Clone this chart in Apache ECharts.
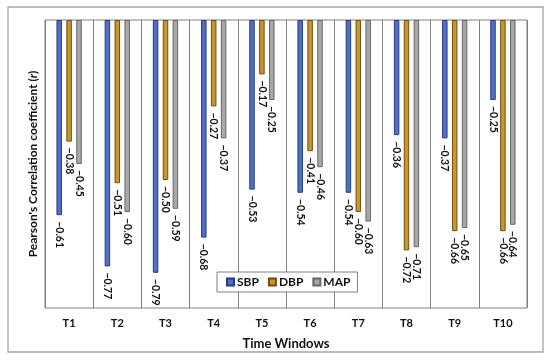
<!DOCTYPE html>
<html><head><meta charset="utf-8">
<script src="https://cdn.jsdelivr.net/npm/echarts@6/dist/echarts.min.js"></script>
<style>html,body{margin:0;padding:0;background:#fff}#c{width:550px;height:364px}</style>
</head><body><div id="c"></div>
<script>
const categories = ['T1','T2','T3','T4','T5','T6','T7','T8','T9','T10'];
const sbp = [-0.61,-0.77,-0.79,-0.68,-0.53,-0.54,-0.54,-0.36,-0.37,-0.25];
const dbp = [-0.38,-0.51,-0.50,-0.27,-0.17,-0.41,-0.60,-0.72,-0.66,-0.66];
const map = [-0.45,-0.60,-0.59,-0.37,-0.25,-0.46,-0.63,-0.71,-0.65,-0.64];
const seriesNames = ['SBP','DBP','MAP'];

const FONT = 'Lato';
const chart = echarts.init(document.getElementById('c'), null, {renderer:'canvas'});
function mk(name, data, fill, border){
  return {
    name, type:'bar', data, barWidth:5.5, barGap:'80%',
    itemStyle:{color:fill, borderColor:border, borderWidth:1},
    label:{show:true, position:'bottom', rotate:-90, distance:6, align:'left', verticalAlign:'middle',
      fontFamily:FONT, fontWeight:'bold', fontSize:10.5, color:'#111',
      formatter:p=>'\u2212'+Math.abs(p.value).toFixed(2)}
  };
}
chart.setOption({
  animation:false,
  backgroundColor:'#fff',
  graphic:[{type:'rect', shape:{x:8,y:7,width:535,height:345}, style:{fill:'none', stroke:'#a5a5a5', lineWidth:1.3}, z:-1}],
  grid:{left:45, right:23, top:20, bottom:56, show:true, borderColor:'#7f7f7f', borderWidth:1, backgroundColor:'transparent'},
  legend:{data:seriesNames, left:217, top:272, orient:'horizontal', icon:'rect', itemWidth:7, itemHeight:7, itemGap:9,
    padding:[4,7,4,9], backgroundColor:'#fff', borderColor:'#7f7f7f', borderWidth:1, z:10,
    textStyle:{fontFamily:FONT, fontWeight:'bold', fontSize:12, color:'#111', padding:[0,0,0,-2]}},
  xAxis:{type:'category', data:categories, position:'bottom',
    axisLine:{show:false}, axisTick:{show:false},
    axisLabel:{fontFamily:FONT, fontWeight:'bold', fontSize:11, color:'#111', margin:10},
    splitLine:{show:true, lineStyle:{color:'#7f7f7f', width:1}},
    name:'Time Windows', nameLocation:'middle', nameGap:29,
    nameTextStyle:{fontFamily:FONT, fontWeight:'bold', fontSize:13, color:'#111'}},
  yAxis:{type:'value', min:-0.9, max:0, interval:0.1, axisLabel:{show:false}, axisTick:{show:false}, axisLine:{show:false}, splitLine:{show:false},
    name:"Pearson's Correlation coefficient ({i|r})", nameLocation:'middle', nameRotate:90, nameGap:6,
    nameTextStyle:{fontFamily:FONT, fontWeight:'bold', fontSize:12, color:'#111',
      rich:{i:{fontFamily:FONT, fontWeight:'bold', fontStyle:'italic', fontSize:12, color:'#111'}}}},
  series:[
    mk('SBP', sbp, '#4f6fc6', '#2b3d7a'),
    mk('DBP', dbp, '#c9952d', '#6e5010'),
    mk('MAP', map, '#a8a8a8', '#666666')
  ]
});
</script></body></html>
